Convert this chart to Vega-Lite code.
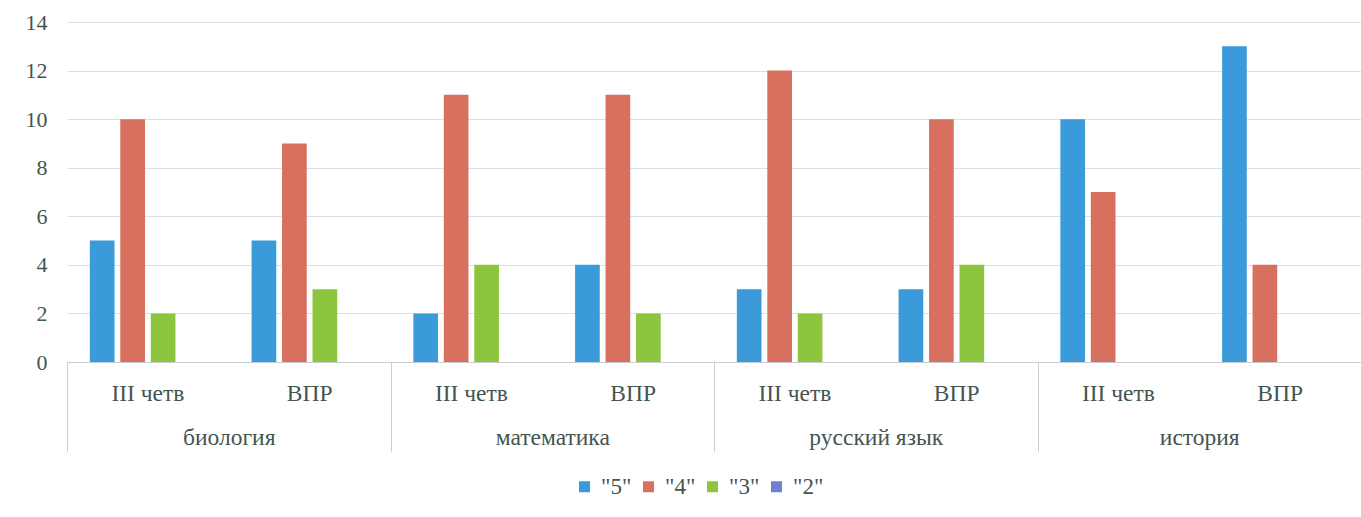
{
  "$schema": "https://vega.github.io/schema/vega-lite/v6.json",
  "width": 1294,
  "height": 340,
  "autosize": {"type": "none"},
  "padding": {"left": 67, "top": 22, "right": 0, "bottom": 155},
  "background": "#ffffff",
  "config": {"font": "Liberation Serif", "view": {"stroke": null}},
  "data": {
    "values": [
      {"subject": "биология", "period": "III четв", "key": "биология|III четв", "grade": "\"5\"", "count": 5},
      {"subject": "биология", "period": "III четв", "key": "биология|III четв", "grade": "\"4\"", "count": 10},
      {"subject": "биология", "period": "III четв", "key": "биология|III четв", "grade": "\"3\"", "count": 2},
      {"subject": "биология", "period": "III четв", "key": "биология|III четв", "grade": "\"2\"", "count": 0},
      {"subject": "биология", "period": "ВПР", "key": "биология|ВПР", "grade": "\"5\"", "count": 5},
      {"subject": "биология", "period": "ВПР", "key": "биология|ВПР", "grade": "\"4\"", "count": 9},
      {"subject": "биология", "period": "ВПР", "key": "биология|ВПР", "grade": "\"3\"", "count": 3},
      {"subject": "биология", "period": "ВПР", "key": "биология|ВПР", "grade": "\"2\"", "count": 0},
      {"subject": "математика", "period": "III четв", "key": "математика|III четв", "grade": "\"5\"", "count": 2},
      {"subject": "математика", "period": "III четв", "key": "математика|III четв", "grade": "\"4\"", "count": 11},
      {"subject": "математика", "period": "III четв", "key": "математика|III четв", "grade": "\"3\"", "count": 4},
      {"subject": "математика", "period": "III четв", "key": "математика|III четв", "grade": "\"2\"", "count": 0},
      {"subject": "математика", "period": "ВПР", "key": "математика|ВПР", "grade": "\"5\"", "count": 4},
      {"subject": "математика", "period": "ВПР", "key": "математика|ВПР", "grade": "\"4\"", "count": 11},
      {"subject": "математика", "period": "ВПР", "key": "математика|ВПР", "grade": "\"3\"", "count": 2},
      {"subject": "математика", "period": "ВПР", "key": "математика|ВПР", "grade": "\"2\"", "count": 0},
      {"subject": "русский язык", "period": "III четв", "key": "русский язык|III четв", "grade": "\"5\"", "count": 3},
      {"subject": "русский язык", "period": "III четв", "key": "русский язык|III четв", "grade": "\"4\"", "count": 12},
      {"subject": "русский язык", "period": "III четв", "key": "русский язык|III четв", "grade": "\"3\"", "count": 2},
      {"subject": "русский язык", "period": "III четв", "key": "русский язык|III четв", "grade": "\"2\"", "count": 0},
      {"subject": "русский язык", "period": "ВПР", "key": "русский язык|ВПР", "grade": "\"5\"", "count": 3},
      {"subject": "русский язык", "period": "ВПР", "key": "русский язык|ВПР", "grade": "\"4\"", "count": 10},
      {"subject": "русский язык", "period": "ВПР", "key": "русский язык|ВПР", "grade": "\"3\"", "count": 4},
      {"subject": "русский язык", "period": "ВПР", "key": "русский язык|ВПР", "grade": "\"2\"", "count": 0},
      {"subject": "история", "period": "III четв", "key": "история|III четв", "grade": "\"5\"", "count": 10},
      {"subject": "история", "period": "III четв", "key": "история|III четв", "grade": "\"4\"", "count": 7},
      {"subject": "история", "period": "III четв", "key": "история|III четв", "grade": "\"3\"", "count": 0},
      {"subject": "история", "period": "III четв", "key": "история|III четв", "grade": "\"2\"", "count": 0},
      {"subject": "история", "period": "ВПР", "key": "история|ВПР", "grade": "\"5\"", "count": 13},
      {"subject": "история", "period": "ВПР", "key": "история|ВПР", "grade": "\"4\"", "count": 4},
      {"subject": "история", "period": "ВПР", "key": "история|ВПР", "grade": "\"3\"", "count": 0},
      {"subject": "история", "period": "ВПР", "key": "история|ВПР", "grade": "\"2\"", "count": 0}
    ]
  },
  "layer": [
    {
      "mark": {"type": "bar"},
      "encoding": {
        "x": {
          "field": "key", "type": "nominal",
          "sort": ["биология|III четв", "биология|ВПР", "математика|III четв", "математика|ВПР", "русский язык|III четв", "русский язык|ВПР", "история|III четв", "история|ВПР"],
          "scale": {"paddingInner": 0, "paddingOuter": 0},
          "axis": {"title": null, "orient": "bottom", "labelExpr": "split(datum.value, '|')[1]", "labelAngle": 0, "labelFont": "Liberation Serif", "labelFontSize": 23.5, "labelColor": "#44554f", "labelPadding": 19, "ticks": false, "domainColor": "#c9ced3", "grid": false}
        },
        "xOffset": {
          "field": "grade", "type": "nominal",
          "sort": ["\"5\"", "\"4\"", "\"3\"", "\"2\""],
          "scale": {"paddingInner": 0.19, "paddingOuter": 0.75}
        },
        "y": {
          "field": "count", "type": "quantitative",
          "scale": {"domain": [0, 14], "nice": false},
          "axis": {"title": null, "values": [0, 2, 4, 6, 8, 10, 12, 14], "domain": false, "ticks": false, "labelFont": "Liberation Serif", "labelFontSize": 22, "labelPadding": 20, "labelColor": "#44554f", "gridColor": "#d8e1ea"}
        },
        "color": {
          "field": "grade", "type": "nominal",
          "sort": ["\"5\"", "\"4\"", "\"3\"", "\"2\""],
          "scale": {"domain": ["\"5\"", "\"4\"", "\"3\"", "\"2\""], "range": ["#3b9ad9", "#d7705f", "#8cc63f", "#6f7fd4"]},
          "legend": {"title": null, "orient": "none", "legendX": 506, "legendY": 453, "direction": "horizontal", "symbolType": "square", "symbolSize": 121, "symbolStrokeWidth": 0, "labelOffset": 5, "labelFont": "Liberation Serif", "labelFontSize": 23, "labelColor": "#44554f", "columnPadding": 5}
        }
      }
    },
    {
      "mark": {"type": "text", "text": ""},
      "encoding": {
        "x": {
          "field": "subject", "type": "nominal",
          "sort": ["биология", "математика", "русский язык", "история"],
          "scale": {"paddingInner": 0, "paddingOuter": 0},
          "axis": {"title": null, "orient": "bottom", "labelAngle": 0, "domain": false, "ticks": true, "tickSize": 89, "tickColor": "#c9ced3", "tickBand": "extent", "labelFont": "Liberation Serif", "labelFontSize": 23.5, "labelColor": "#44554f", "labelPadding": -26, "grid": false}
        },
        "y": {"datum": 0}
      }
    }
  ],
  "resolve": {"scale": {"x": "independent"}, "axis": {"x": "independent"}}
}
